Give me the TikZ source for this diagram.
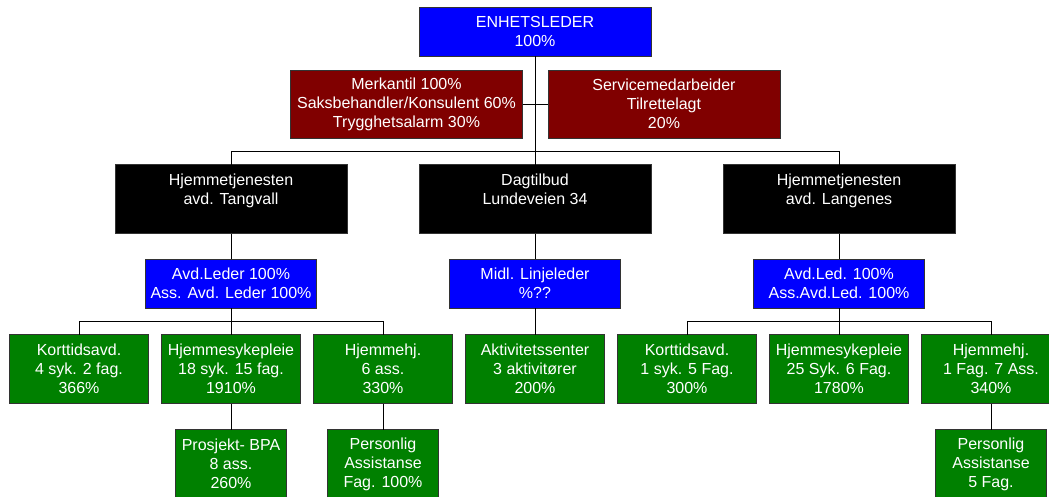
\documentclass[tikz,border=0pt]{standalone}
\usepackage{fontspec}
\setmainfont{Liberation Sans}
\usetikzlibrary{positioning}
\definecolor{ledblue}{RGB}{0,0,255}
\definecolor{staffred}{RGB}{128,0,0}
\definecolor{teamgreen}{RGB}{0,128,0}

\begin{document}
\begin{tikzpicture}[x=1pt, y=-1pt,
node distance=26pt,
 cell/.style = {rectangle, draw=black!80, line width=1pt, text=white,% common look of all boxes
                align=center, inner sep=0pt, outer sep=0pt,
                font=\fontsize{16}{19}\selectfont},
    B/.style = {cell, fill=ledblue, minimum width=171pt, minimum height=49pt},% leaders
    R/.style = {cell, fill=staffred, minimum width=232pt, minimum height=68pt},% staff
    K/.style = {cell, fill=black, minimum width=232pt, minimum height=69pt},% departments
    G/.style = {cell, fill=teamgreen, minimum width=139pt, minimum height=69pt},% teams
    P/.style = {G, minimum width=111.5pt},
 wire/.style = {draw=black, line width=1pt},
                        ]
\path[use as bounding box, fill=white] (0,0) rectangle (1049,496);
\clip (0,0) rectangle (1049,496);

\node[B, minimum width=232pt] (top) at (535,31.7) {ENHETSLEDER\\100\%};
\node[R] (S-1) at (406.5,104.2) {Merkantil 100\%\\Saksbehandler/Konsulent 60\%\\Trygghetsalarm 30\%};
\node[R] (S-2) at (664,104.2) {Servicemedarbeider\\Tilrettelagt\\20\%};

\foreach \i/\x/\txt in {1/231/{Hjemmetjenesten\\avd. Tangvall},
                        2/535/{Dagtilbud\\Lundeveien 34},
                        3/839/{Hjemmetjenesten\\avd. Langenes}}% <-- departments
    \node[K] (D-\i) at (\x,199) {\txt\\~};

\node[B] (L-1) at (231,283.7) {Avd.Leder 100\%\\Ass. Avd. Leder 100\%};
\node[B] (L-2) at (535,283.7) {Midl. Linjeleder\\\%??};
\node[B] (L-3) at (839,283.7) {Avd.Led. 100\%\\Ass.Avd.Led. 100\%};

\foreach \i/\x/\txt in {1/79/{Korttidsavd.\\4 syk. 2 fag.\\366\%},
                        2/231/{Hjemmesykepleie\\18 syk. 15 fag.\\1910\%},
                        3/383/{Hjemmehj.\\6 ass.\\330\%},
                        4/535/{Aktivitetssenter\\3 aktivitører\\200\%},
                        5/687/{Korttidsavd.\\1 syk. 5 Fag.\\300\%},
                        6/839/{Hjemmesykepleie\\25 Syk. 6 Fag.\\1780\%},
                        7/991/{Hjemmehj.\\1 Fag. 7 Ass.\\340\%}}% <-- teams
    \node[G] (G-\i) at (\x,369) {\txt};

\node[P, below=of G-2] (P-1) {Prosjekt- BPA\\8 ass.\\260\%};
\node[P, below=of G-3] (P-2) {Personlig\\Assistanse\\Fag. 100\%};
\node[P, below=of G-7] (P-3) {Personlig\\Assistanse\\5 Fag.};

\coordinate (bus)  at (535,151.7);
\coordinate (lbus) at (231,321.7);
\coordinate (rbus) at (839,321.7);

\draw[wire] (top) -- (D-2);
\draw[wire] (S-1) -- (S-2);
\draw[wire] (D-1) |- (bus) -| (D-3);
\foreach \i in {1,2,3}
    \draw[wire] (D-\i) -- (L-\i);
\draw[wire] (L-1) -- (G-2);
\draw[wire] (G-1) |- (lbus) -| (G-3);
\draw[wire] (L-2) -- (G-4);
\draw[wire] (L-3) -- (G-6);
\draw[wire] (G-5) |- (rbus) -| (G-7);
\draw[wire] (G-2) -- (P-1);
\draw[wire] (G-3) -- (P-2);
\draw[wire] (G-7) -- (P-3);
\end{tikzpicture}
\end{document}
